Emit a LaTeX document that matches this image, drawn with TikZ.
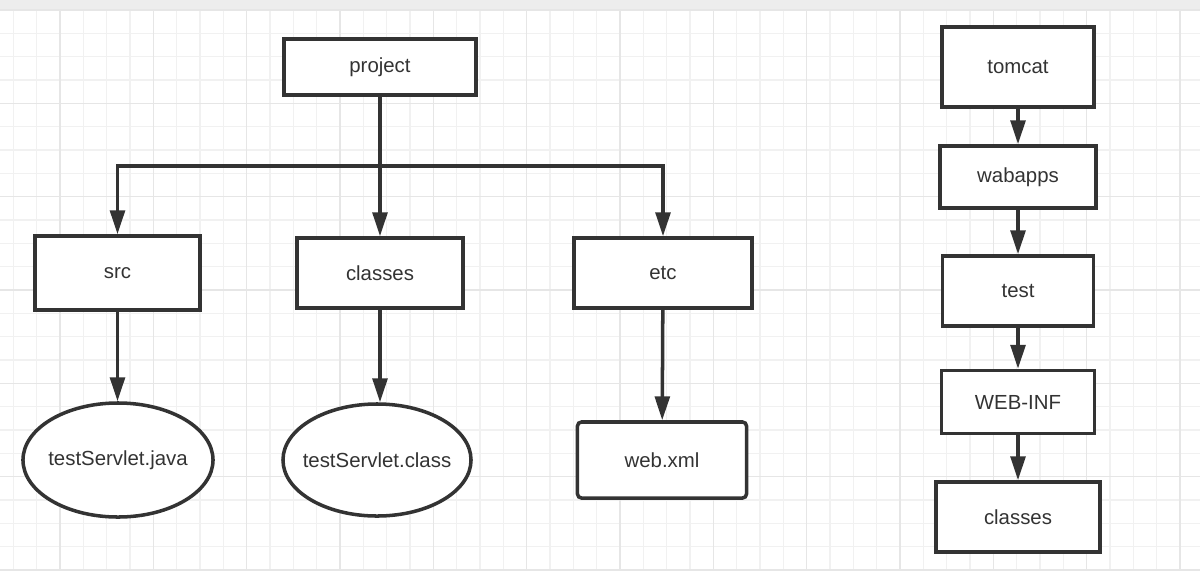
\documentclass[tikz,border=0pt]{standalone}
\usepackage{fontspec}
\setmainfont{Liberation Sans}
\usetikzlibrary{arrows.meta,shapes.geometric}
\definecolor{ink}{HTML}{333333}
\definecolor{gridminor}{HTML}{F1F1F1}
\definecolor{gridmajor}{HTML}{E6E6E6}
\definecolor{topband}{HTML}{EDEDED}
\tikzset{
  dirbox/.style={draw=ink, line width=2.5pt, fill=white, text=ink, inner sep=0pt,
    font=\fontsize{14.5}{17}\selectfont},
  filebox/.style={dirbox, ellipse},
  arr/.style={draw=ink, line width=2.5pt, -{Triangle[length=17pt,width=10.5pt]}},
}
\begin{document}
\begin{tikzpicture}[x=0.025cm, y=-0.025cm]
    \useasboundingbox (0,0) rectangle (1200,572);
    % background grid
    \fill [color=topband] (0,0) rectangle (1200,10);
    \foreach \i in {-2,...,49}
        {\draw [gridminor, line width=1pt] ({60+\i*23.333},10) -- ({60+\i*23.333},570);}
    \foreach \j in {0,...,24}
        {\draw [gridminor, line width=1pt] (0,{10+\j*23.333}) -- (1200,{10+\j*23.333});}
    \foreach \i in {0,...,12}
        {\draw [gridmajor, line width=1pt] ({60+\i*93.333},10) -- ({60+\i*93.333},570);}
    \foreach \j in {0,...,6}
        {\draw [gridmajor, line width=1pt] (0,{10+\j*93.333}) -- (1200,{10+\j*93.333});}

    % project tree
    \node [dirbox, minimum width=48mm, minimum height=14mm] (project) at (380,67) {project};
    \node [dirbox, minimum width=41.25mm, minimum height=18.5mm] (src) at (117.5,273) {src};
    \node [dirbox, minimum width=41.5mm, minimum height=17.5mm] (classes) at (380,273) {classes};
    \node [dirbox, minimum width=44.5mm, minimum height=17.5mm] (etc) at (663,273) {etc};
    \node [filebox, minimum width=47.5mm, minimum height=28.5mm] (java) at (118,460) {\makebox[0pt]{testServlet.java}};
    \node [filebox, minimum width=47mm, minimum height=28mm] (class) at (377,460) {\makebox[0pt]{testServlet.class}};
    \node [dirbox, rounded corners=1mm, minimum width=42.25mm, minimum height=19mm] (webxml) at (662,460) {web.xml};
    \coordinate (split) at (380,166);

    \draw [arr] (project) -- (classes);
    \draw [arr] (split) -| (src);
    \draw [arr] (split) -| (etc);
    \draw [arr] (src) -- (src |- java.north);
    \draw [arr] (classes) -- (classes |- class.north);
    \draw [arr] (etc) -- (webxml);

    % tomcat tree
    \node [dirbox, minimum width=38mm, minimum height=20mm] (tomcat) at (1018,67) {tomcat};
    \node [dirbox, minimum width=39mm, minimum height=15.5mm] (webapps) at (1018,177) {wabapps};
    \node [dirbox, minimum width=37.75mm, minimum height=17.5mm] (test) at (1018,291) {test};
    \node [dirbox, minimum width=38.25mm, minimum height=15.75mm] (webinf) at (1018,402) {WEB-INF};
    \node [dirbox, minimum width=41mm, minimum height=17.5mm] (tclasses) at (1018,517) {classes};

    \foreach \a/\b in {tomcat/webapps,webapps/test,test/webinf,webinf/tclasses}
        {\draw [arr] (\a) -- (\b);}
\end{tikzpicture}
\end{document}
